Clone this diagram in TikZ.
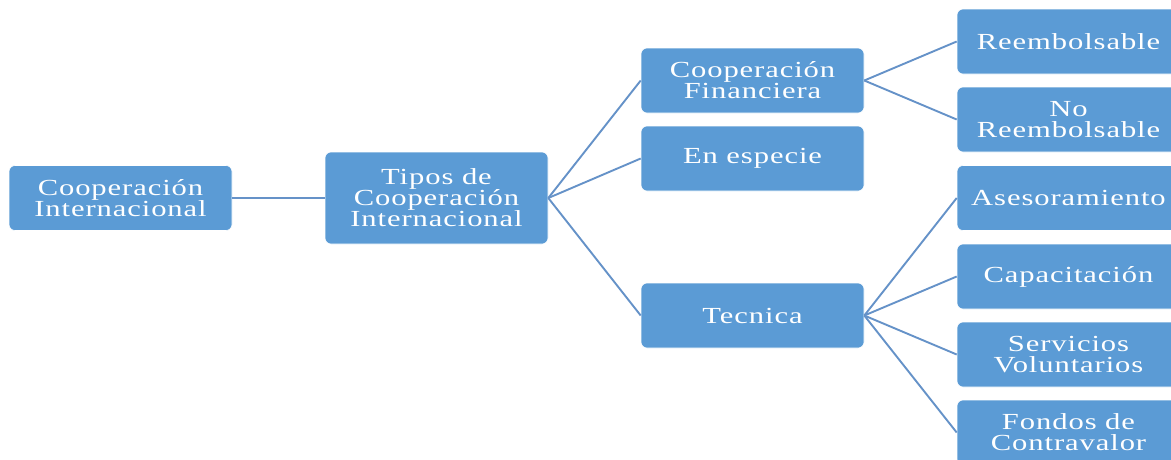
\documentclass[tikz,border=0pt]{standalone}
\usepackage{fontspec}
\setmainfont{Liberation Serif}[FakeStretch=1.33,LetterSpace=4]
\begin{document}
\begin{tikzpicture}[x=1pt,y=-1pt,
  box/.style={draw=white,line width=0.6pt,fill=boxblue,rounded corners=6pt,
    minimum width=223pt,minimum height=65pt,text=white,align=center,
    font=\fontsize{23}{21}\selectfont,inner sep=2pt},
  conn/.style={draw=lineblue,line width=1.9pt}]
\definecolor{boxblue}{HTML}{5B9BD5}
\definecolor{lineblue}{HTML}{6592C8}
\useasboundingbox (0,0) rectangle (1171,459);
\clip (0,0) rectangle (1171,459);
\node[box] (a) at (120.5,198) {Cooperación\\Internacional};
\node[box,minimum height=92pt] (b) at (436.5,198) {Tipos de\\Cooperación\\Internacional};
\node[box] (c) at (752.5,80.5) {Cooperación\\Financiera};
\node[box] (d) at (752.5,158.5) {En especie};
\node[box] (e) at (752.5,315.5) {Tecnica};
\node[box] (f) at (1068.5,41.5) {Reembolsable};
\node[box] (g) at (1068.5,119.5) {No\\Reembolsable};
\node[box] (h) at (1068.5,198) {Asesoramiento};
\node[box] (i) at (1068.5,276.5) {Capacitación};
\node[box] (j) at (1068.5,354.5) {Servicios\\Voluntarios};
\node[box] (k) at (1068.5,432.5) {Fondos de\\Contravalor};
\draw[conn] (a.east) -- (b.west);
\draw[conn] (b.east) -- (c.west);
\draw[conn] (b.east) -- (d.west);
\draw[conn] (b.east) -- (e.west);
\draw[conn] (c.east) -- (f.west);
\draw[conn] (c.east) -- (g.west);
\draw[conn] (e.east) -- (h.west);
\draw[conn] (e.east) -- (i.west);
\draw[conn] (e.east) -- (j.west);
\draw[conn] (e.east) -- (k.west);
\end{tikzpicture}
\end{document}
